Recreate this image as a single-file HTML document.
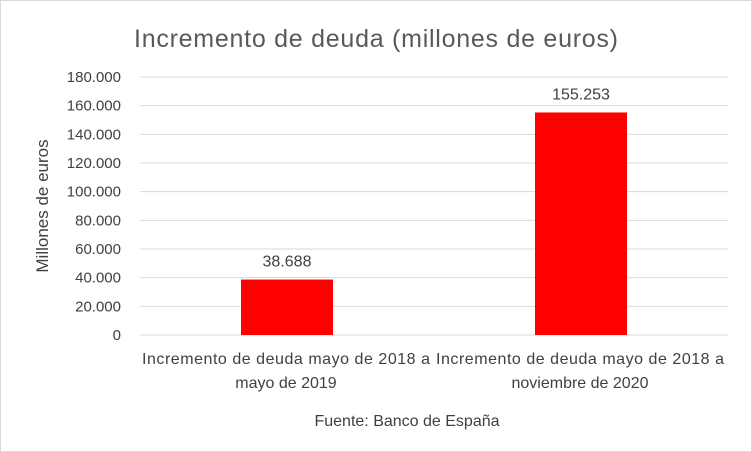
<!DOCTYPE html>
<html><head><meta charset="utf-8"><style>
body{margin:0;background:#fff;}
svg{display:block;font-family:"Liberation Sans",sans-serif;}
</style></head><body>
<svg id="chart" width="752" height="452">
<rect x="0.5" y="0.5" width="751" height="451" fill="#fff" stroke="#d9d9d9"/>
<text x="376" y="47" text-anchor="middle" font-size="25" fill="#595959" textLength="484">Incremento de deuda (millones de euros)</text>
<text transform="translate(48,206) rotate(-90)" text-anchor="middle" font-size="17" fill="#404040">Millones de euros</text>
<text x="407" y="426" text-anchor="middle" font-size="16" fill="#404040">Fuente: Banco de España</text>
<g id="grid"></g><g id="bars"></g><g id="labels"></g>
</svg>
<script>
const categories=[["Incremento de deuda mayo de 2018 a","mayo de 2019"],["Incremento de deuda mayo de 2018 a","noviembre de 2020"]];
const values=[38688,155253];
const valueLabels=["38.688","155.253"];
const ticks=[0,20000,40000,60000,80000,100000,120000,140000,160000,180000];
const tickLabels=["0","20.000","40.000","60.000","80.000","100.000","120.000","140.000","160.000","180.000"];
const NS="http://www.w3.org/2000/svg";
const x0=140,x1=728,yb=335,yt=77,ymax=180000;
const y=v=>yb-(v/ymax)*(yb-yt);
const bw=(x1-x0)/categories.length;
const xc=i=>x0+bw*(i+0.5);
function mk(t,a,p){const e=document.createElementNS(NS,t);for(const k in a)e.setAttribute(k,a[k]);p.appendChild(e);return e;}
const g=document.getElementById('grid'),b=document.getElementById('bars'),l=document.getElementById('labels');
ticks.forEach((t,i)=>{
const ln=mk('line',{x1:x0,x2:x1,y1:y(t),y2:y(t),stroke:'#d9d9d9','stroke-width':1},g);


const tx=mk('text',{x:x0-19,y:y(t)+5,'text-anchor':'end','font-size':15,fill:'#404040'},g);
tx.textContent=tickLabels[i];


});
values.forEach((v,i)=>{
const w=92;
const r=mk('rect',{x:xc(i)-w/2,y:y(v),width:w,height:yb-y(v),fill:'#ff0000'},b);


const vl=mk('text',{x:xc(i),y:y(v)-13,'text-anchor':'middle','font-size':16,fill:'#404040'},l);
vl.textContent=valueLabels[i];


categories[i].forEach((s,j)=>{
const attrs={x:xc(i)-1,y:364+j*24,'text-anchor':'middle','font-size':16,fill:'#404040'};
if(j===0)attrs.textLength=288;
const c=mk('text',attrs,l);
c.textContent=s;


});
});
</script>
</body></html>
